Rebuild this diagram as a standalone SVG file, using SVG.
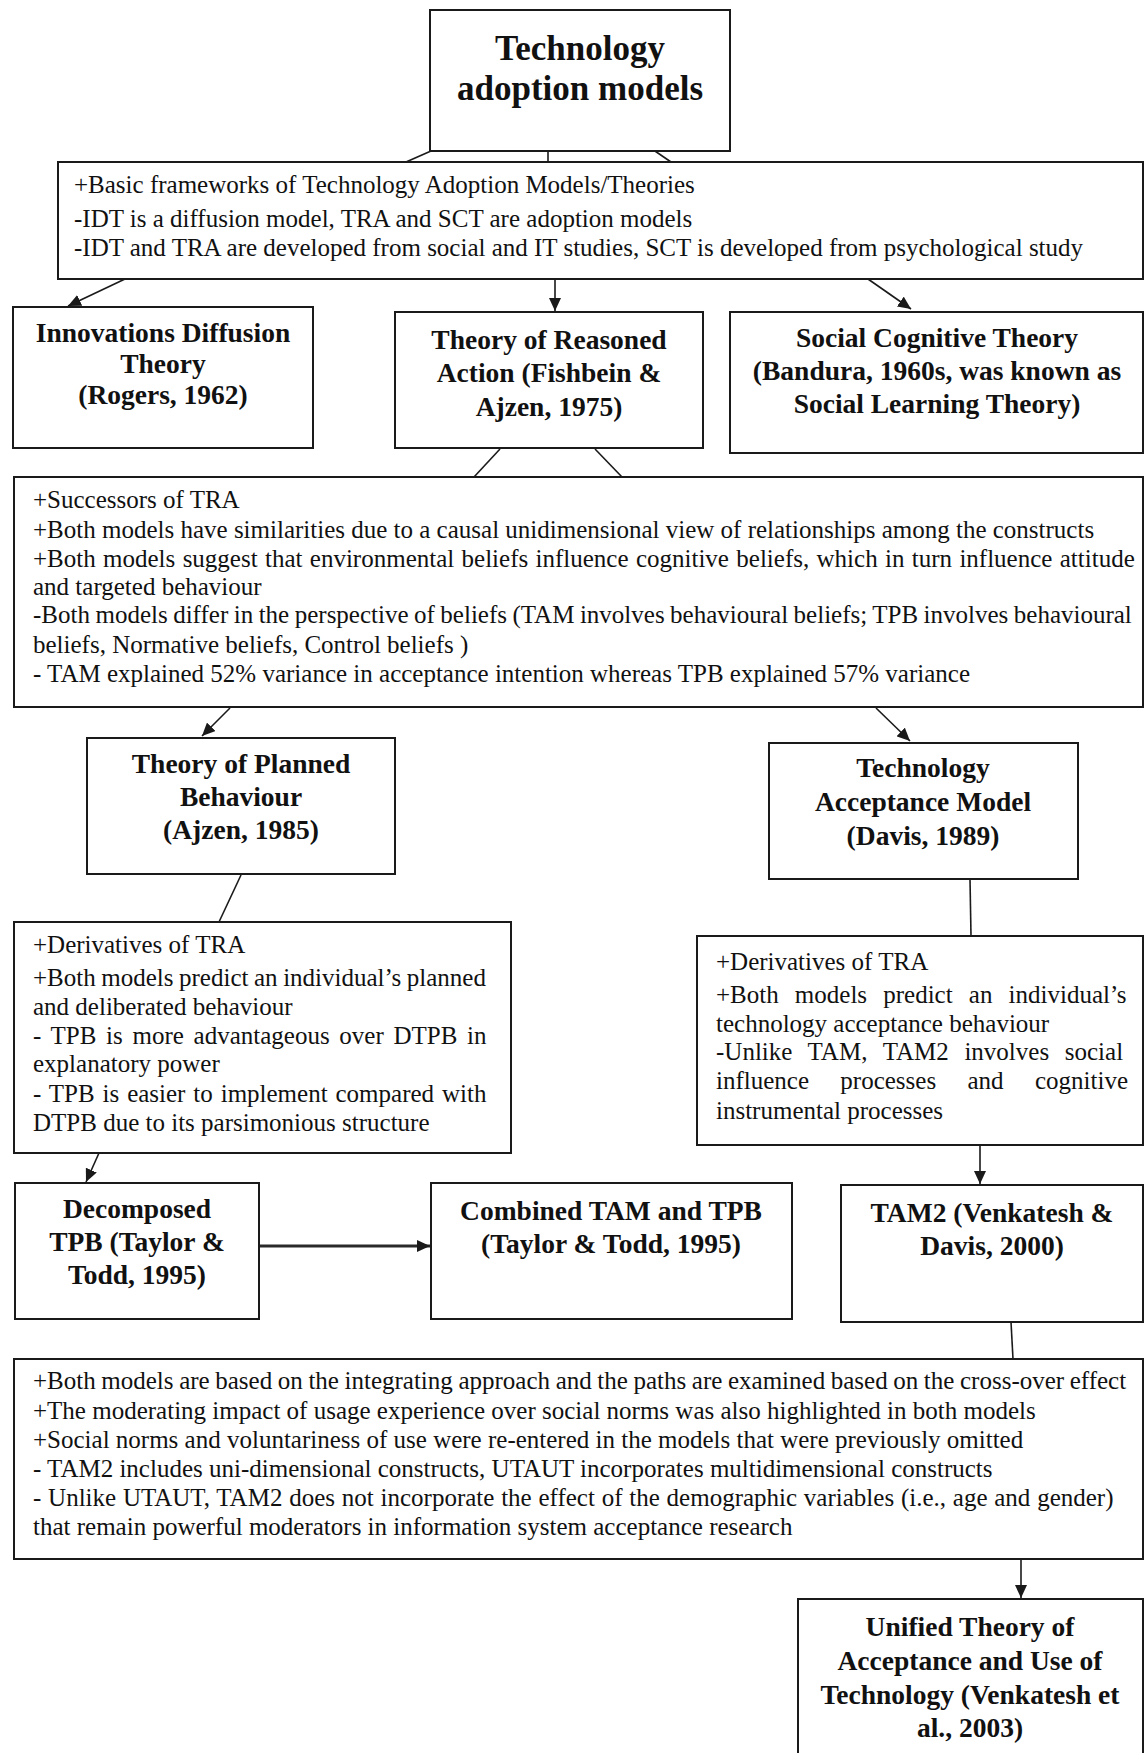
<svg xmlns="http://www.w3.org/2000/svg" width="1145" height="1753" viewBox="0 0 1145 1753">
  <style>
    .box { fill: #ffffff; stroke: #1a1a1a; stroke-width: 2; }
    .head { font-family: "Liberation Serif", "Times New Roman", serif; font-weight: bold; font-size: 35px; text-anchor: middle; fill: #111111; }
    .title { font-family: "Liberation Serif", "Times New Roman", serif; font-weight: bold; font-size: 27.5px; text-anchor: middle; fill: #111111; }
    .body { font-family: "Liberation Serif", "Times New Roman", serif; font-size: 25px; fill: #111111; }
    .link { fill: none; stroke: #1a1a1a; stroke-width: 1.6; }
    .arrow { fill: none; stroke: #1a1a1a; stroke-width: 1.6; marker-end: url(#head); }
    .thick { fill: none; stroke: #2a2a2a; stroke-width: 3; marker-end: url(#head); }
  </style>
  <defs>
    <marker id="head" markerUnits="userSpaceOnUse" markerWidth="14" markerHeight="12" refX="13" refY="6" orient="auto">
      <path d="M0,0 L13,6 L0,12 z" fill="#1a1a1a"/>
    </marker>
  </defs>
  <rect width="1145" height="1753" fill="#ffffff"/>

  <!-- connectors -->
  <g id="connectors">
    <line class="link" x1="431" y1="151" x2="406" y2="162"/>
    <line class="link" x1="548" y1="151" x2="548" y2="162"/>
    <line class="link" x1="652" y1="149" x2="671" y2="162"/>
    <line class="arrow" x1="125" y1="279" x2="68" y2="306"/>
    <line class="arrow" x1="555" y1="279" x2="555" y2="311"/>
    <line class="arrow" x1="868" y1="279" x2="911" y2="309"/>
    <line class="link" x1="500" y1="449" x2="474" y2="477"/>
    <line class="link" x1="595" y1="449" x2="622" y2="477"/>
    <line class="arrow" x1="230" y1="708" x2="202" y2="736"/>
    <line class="arrow" x1="876" y1="708" x2="910" y2="741"/>
    <line class="link" x1="241" y1="875" x2="219" y2="922"/>
    <line class="link" x1="970" y1="879" x2="971" y2="936"/>
    <line class="arrow" x1="99" y1="1153" x2="86" y2="1182"/>
    <line class="arrow" x1="980" y1="1145" x2="980" y2="1184"/>
    <line class="thick" x1="259" y1="1246" x2="430" y2="1246"/>
    <line class="link" x1="1011" y1="1322" x2="1013" y2="1359"/>
    <line class="arrow" x1="1021" y1="1559" x2="1021" y2="1598"/>
  </g>

  <g id="adoption-models">
    <rect class="box" x="430" y="10" width="300" height="141"/>
    <text class="head" x="580" y="60">Technology</text>
    <text class="head" x="580" y="100">adoption models</text>
  </g>

  <g id="basic-frameworks">
    <rect class="box" x="58" y="162" width="1085" height="117"/>
    <text class="body" x="74" y="193">+Basic frameworks of Technology Adoption Models/Theories</text>
    <text class="body" x="74" y="227">-IDT is a diffusion model, TRA and SCT are adoption models</text>
    <text class="body" x="74" y="256">-IDT and TRA are developed from social and IT studies, SCT is developed from psychological study</text>
  </g>

  <g id="idt">
    <rect class="box" x="13" y="307" width="300" height="141"/>
    <text class="title" x="163" y="342">Innovations Diffusion</text>
    <text class="title" x="163" y="373">Theory</text>
    <text class="title" x="163" y="404">(Rogers, 1962)</text>
  </g>

  <g id="tra">
    <rect class="box" x="395" y="312" width="308" height="136"/>
    <text class="title" x="549" y="349">Theory of Reasoned</text>
    <text class="title" x="549" y="382">Action (Fishbein &amp;</text>
    <text class="title" x="549" y="416">Ajzen, 1975)</text>
  </g>

  <g id="sct">
    <rect class="box" x="730" y="312" width="413" height="141"/>
    <text class="title" x="937" y="347">Social Cognitive Theory</text>
    <text class="title" x="937" y="380">(Bandura, 1960s, was known as</text>
    <text class="title" x="937" y="413">Social Learning Theory)</text>
  </g>

  <g id="successors">
    <rect class="box" x="14" y="477" width="1129" height="230"/>
    <text class="body" x="33" y="508">+Successors of TRA</text>
    <text class="body" x="33" y="538">+Both models have similarities due to a causal unidimensional view of relationships among the constructs</text>
    <text class="body" x="33" y="567" word-spacing="1.1">+Both models suggest that environmental beliefs influence cognitive beliefs, which in turn influence attitude</text>
    <text class="body" x="33" y="595">and targeted behaviour</text>
    <text class="body" x="33" y="623" word-spacing="-0.75">-Both models differ in the perspective of beliefs (TAM involves behavioural beliefs; TPB involves behavioural</text>
    <text class="body" x="33" y="653">beliefs, Normative beliefs, Control beliefs )</text>
    <text class="body" x="33" y="682">- TAM explained 52% variance in acceptance intention whereas TPB explained 57% variance</text>
  </g>

  <g id="tpb">
    <rect class="box" x="87" y="738" width="308" height="136"/>
    <text class="title" x="241" y="773">Theory of Planned</text>
    <text class="title" x="241" y="806">Behaviour</text>
    <text class="title" x="241" y="839">(Ajzen, 1985)</text>
  </g>

  <g id="tam">
    <rect class="box" x="769" y="743" width="309" height="136"/>
    <text class="title" x="923" y="777">Technology</text>
    <text class="title" x="923" y="811">Acceptance Model</text>
    <text class="title" x="923" y="845">(Davis, 1989)</text>
  </g>

  <g id="tpb-derivatives">
    <rect class="box" x="14" y="922" width="497" height="231"/>
    <text class="body" x="33" y="953">+Derivatives of TRA</text>
    <text class="body" x="33" y="986" word-spacing="-0.7">+Both models predict an individual’s planned</text>
    <text class="body" x="33" y="1015">and deliberated behaviour</text>
    <text class="body" x="33" y="1044" word-spacing="3.45">- TPB is more advantageous over DTPB in</text>
    <text class="body" x="33" y="1072">explanatory power</text>
    <text class="body" x="33" y="1102" word-spacing="1.66">- TPB is easier to implement compared with</text>
    <text class="body" x="33" y="1131">DTPB due to its parsimonious structure</text>
  </g>

  <g id="tam-derivatives">
    <rect class="box" x="697" y="936" width="446" height="209"/>
    <text class="body" x="716" y="970">+Derivatives of TRA</text>
    <text class="body" x="716" y="1003" word-spacing="9.9">+Both models predict an individual’s</text>
    <text class="body" x="716" y="1032">technology acceptance behaviour</text>
    <text class="body" x="716" y="1060" word-spacing="9.44">-Unlike TAM, TAM2 involves social</text>
    <text class="body" x="716" y="1089" word-spacing="25.1">influence processes and cognitive</text>
    <text class="body" x="716" y="1119">instrumental processes</text>
  </g>

  <g id="dtpb">
    <rect class="box" x="15" y="1183" width="244" height="136"/>
    <text class="title" x="137" y="1218">Decomposed</text>
    <text class="title" x="137" y="1251">TPB (Taylor &amp;</text>
    <text class="title" x="137" y="1284">Todd, 1995)</text>
  </g>

  <g id="combined">
    <rect class="box" x="431" y="1183" width="361" height="136"/>
    <text class="title" x="611" y="1220">Combined TAM and TPB</text>
    <text class="title" x="611" y="1253">(Taylor &amp; Todd, 1995)</text>
  </g>

  <g id="tam2">
    <rect class="box" x="841" y="1185" width="302" height="137"/>
    <text class="title" x="992" y="1222">TAM2 (Venkatesh &amp;</text>
    <text class="title" x="992" y="1255">Davis, 2000)</text>
  </g>

  <g id="tam2-utaut">
    <rect class="box" x="14" y="1359" width="1129" height="200"/>
    <text class="body" x="33" y="1389" word-spacing="-0.65">+Both models are based on the integrating approach and the paths are examined based on the cross-over effect</text>
    <text class="body" x="33" y="1419">+The moderating impact of usage experience over social norms was also highlighted in both models</text>
    <text class="body" x="33" y="1448">+Social norms and voluntariness of use were re-entered in the models that were previously omitted</text>
    <text class="body" x="33" y="1477">- TAM2 includes uni-dimensional constructs, UTAUT incorporates multidimensional constructs</text>
    <text class="body" x="33" y="1506" word-spacing="0.53">- Unlike UTAUT, TAM2 does not incorporate the effect of the demographic variables (i.e., age and gender)</text>
    <text class="body" x="33" y="1535">that remain powerful moderators in information system acceptance research</text>
  </g>

  <g id="utaut">
    <rect class="box" x="798" y="1599" width="345" height="170"/>
    <text class="title" x="970" y="1636">Unified Theory of</text>
    <text class="title" x="970" y="1670">Acceptance and Use of</text>
    <text class="title" x="970" y="1704">Technology (Venkatesh et</text>
    <text class="title" x="970" y="1737">al., 2003)</text>
  </g>
</svg>
